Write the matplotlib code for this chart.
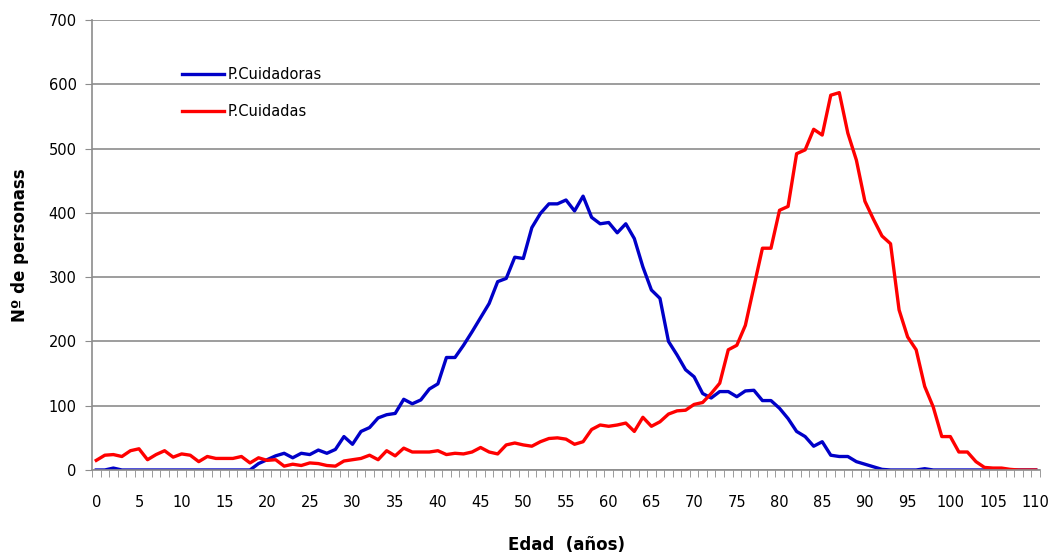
import numpy as np
import matplotlib.pyplot as plt

# Edades (0-110) y número de personas por edad
edades = np.arange(0, 111)

cuidadoras = [0, 0, 3, 0, 0, 0, 0, 0, 0, 0,
              0, 0, 0, 0, 0, 0, 0, 0, 0, 10,
              16, 22, 26, 19, 26, 24, 31, 26, 32, 52,
              40, 60, 66, 81, 86, 88, 110, 103, 109, 126,
              134, 175, 175, 194, 215, 237, 259, 293, 298, 331,
              329, 377, 399, 414, 414, 420, 403, 426, 393, 383,
              385, 369, 383, 360, 316, 280, 267, 200, 179, 156,
              145, 119, 112, 122, 122, 114, 123, 124, 108, 108,
              96, 80, 60, 52, 37, 44, 23, 21, 21, 13,
              9, 5, 1, 0, 0, 0, 0, 2, 0, 0,
              0, 0, 0, 0, 0, 0, 0, 0, 0, 0,
              0]

cuidadas = [15, 23, 24, 21, 30, 33, 16, 24, 30, 20,
            25, 23, 13, 21, 18, 18, 18, 21, 11, 19,
            15, 16, 6, 9, 7, 11, 10, 7, 6, 14,
            16, 18, 23, 16, 30, 22, 34, 28, 28, 28,
            30, 24, 26, 25, 28, 35, 28, 25, 39, 42,
            39, 37, 44, 49, 50, 48, 40, 44, 63, 70,
            68, 70, 73, 60, 82, 68, 75, 87, 92, 93,
            102, 105, 119, 135, 187, 194, 225, 285, 345, 345,
            404, 410, 492, 498, 530, 521, 583, 587, 524, 482,
            418, 390, 364, 352, 249, 207, 187, 130, 98, 52,
            52, 28, 28, 13, 4, 3, 3, 1, 0, 0,
            0]

fig = plt.figure(figsize=(10.51, 5.56), dpi=100)
ax = fig.add_axes([92/1051, 1 - 470/556, 948/1051, 450/556])

ax.plot(edades, cuidadoras, color="#0000C8", lw=2.4, label="P.Cuidadoras")
ax.plot(edades, cuidadas, color="#FF0000", lw=2.4, label="P.Cuidadas")

ax.set_xlim(-0.5, 110.5)
ax.set_ylim(0, 700)
ax.set_yticks(np.arange(0, 701, 100))
ax.set_xticks(np.arange(0, 111, 5))
ax.set_xticks(np.arange(-0.5, 111, 1), minor=True)

ax.yaxis.grid(True, color="#8c8c8c", lw=1.2)
ax.set_axisbelow(True)
for s in ["top", "right"]:
    ax.spines[s].set_visible(False)
for s in ["left", "bottom"]:
    ax.spines[s].set_color("#8c8c8c")
    ax.spines[s].set_linewidth(1.2)

ax.tick_params(axis="y", length=5, color="#8c8c8c", labelsize=10.5, pad=6)
ax.tick_params(axis="x", which="major", length=0, labelsize=10.5, pad=18)
ax.tick_params(axis="x", which="minor", length=5, color="#8c8c8c")

ax.set_ylabel("Nº de personass", fontsize=12, fontweight="bold", labelpad=14)
ax.set_xlabel("Edad  (años)", fontsize=12, fontweight="bold", labelpad=19)

ax.legend(loc="upper left", bbox_to_anchor=(182/1051, 1 - 67/556),
          bbox_transform=fig.transFigure, frameon=False, fontsize=10.5,
          handlelength=2.9, handletextpad=0.25, labelspacing=1.5,
          borderpad=0, borderaxespad=0)

fig.savefig("out.png", dpi=100)
